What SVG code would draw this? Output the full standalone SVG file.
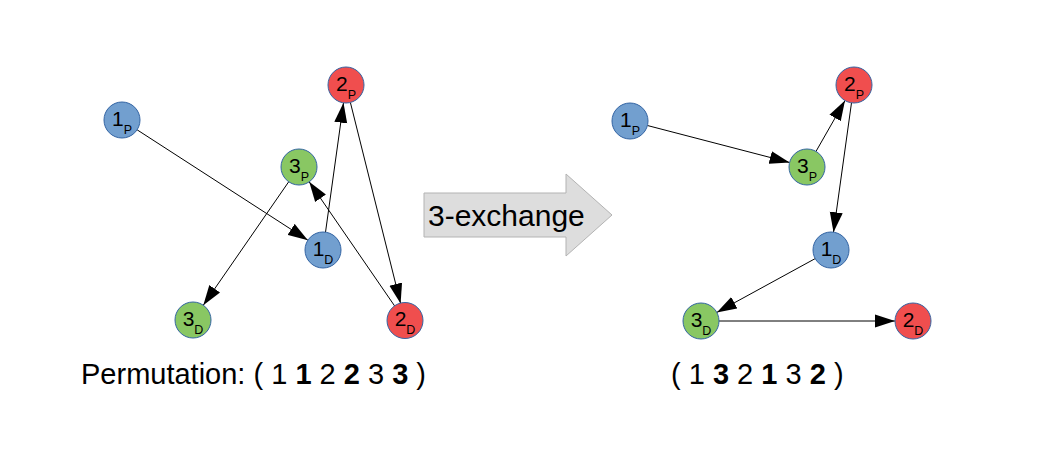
<svg xmlns="http://www.w3.org/2000/svg" width="1037" height="462" viewBox="0 0 1037 462">
<style>
.n{stroke:#3465a4;stroke-width:1}
.b{fill:#729fcf}.r{fill:#f04e4e}.g{fill:#89c763}
.t{font-family:"Liberation Sans",Arial,sans-serif;font-size:21px;fill:#000;text-anchor:middle}
.s{font-size:12.5px}
.e{stroke:#000;stroke-width:1;fill:none;marker-end:url(#ah)}
.lab{font-family:"Liberation Sans",Arial,sans-serif;font-size:29px;fill:#000}
</style>
<defs>
<marker id="ah" markerUnits="userSpaceOnUse" markerWidth="20" markerHeight="14" refX="20" refY="7" orient="auto">
<path d="M0,0.5 L20,7 L0,13.5 z" fill="#000"/>
</marker>
</defs>
<rect width="1037" height="462" fill="#fff"/>
<g id="connectors">
<line class="e" x1="137.1" y1="129.8" x2="307.9" y2="240.2"/>
<line class="e" x1="325.5" y1="232.2" x2="343.5" y2="102.8"/>
<line class="e" x1="350.4" y1="102.5" x2="400.6" y2="303.5"/>
<line class="e" x1="394.8" y1="306.2" x2="309.2" y2="181.8"/>
<line class="e" x1="288.7" y1="181.8" x2="203.3" y2="305.2"/>
<line class="e" x1="647.4" y1="125.5" x2="789.6" y2="162.5"/>
<line class="e" x1="816" y1="151.4" x2="845" y2="100.6"/>
<line class="e" x1="851.5" y1="102.8" x2="833.5" y2="232.2"/>
<line class="e" x1="815.2" y1="258.6" x2="716.8" y2="312.4"/>
<line class="e" x1="719" y1="321" x2="895" y2="321"/>
</g>
<g id="L1P"><circle class="n b" cx="122" cy="120" r="18"/><text class="t" x="122" y="126">1<tspan class="s" dy="7.5">P</tspan></text></g>
<g id="L2P"><circle class="n r" cx="346" cy="85" r="18"/><text class="t" x="346" y="91">2<tspan class="s" dy="7.5">P</tspan></text></g>
<g id="L3P"><circle class="n g" cx="299" cy="167" r="18"/><text class="t" x="299" y="173">3<tspan class="s" dy="7.5">P</tspan></text></g>
<g id="L1D"><circle class="n b" cx="323" cy="250" r="18"/><text class="t" x="323" y="256">1<tspan class="s" dy="7.5">D</tspan></text></g>
<g id="L3D"><circle class="n g" cx="193" cy="320" r="18"/><text class="t" x="193" y="326">3<tspan class="s" dy="7.5">D</tspan></text></g>
<g id="L2D"><circle class="n r" cx="405" cy="320.5" r="18"/><text class="t" x="405" y="326">2<tspan class="s" dy="7.5">D</tspan></text></g>
<g id="R1P"><circle class="n b" cx="630" cy="121" r="18"/><text class="t" x="630" y="127">1<tspan class="s" dy="7.5">P</tspan></text></g>
<g id="R2P"><circle class="n r" cx="854" cy="85" r="18"/><text class="t" x="854" y="91">2<tspan class="s" dy="7.5">P</tspan></text></g>
<g id="R3P"><circle class="n g" cx="807" cy="167" r="18"/><text class="t" x="807" y="173">3<tspan class="s" dy="7.5">P</tspan></text></g>
<g id="R1D"><circle class="n b" cx="831" cy="250" r="18"/><text class="t" x="831" y="256">1<tspan class="s" dy="7.5">D</tspan></text></g>
<g id="R3D"><circle class="n g" cx="701" cy="321" r="18"/><text class="t" x="701" y="327">3<tspan class="s" dy="7.5">D</tspan></text></g>
<g id="R2D"><circle class="n r" cx="913" cy="321" r="18"/><text class="t" x="913" y="327">2<tspan class="s" dy="7.5">D</tspan></text></g>
<g id="exchange">
<path d="M424,193 L566,193 L566,174 L612,215 L566,256 L566,237 L424,237 z" fill="#dddddd" stroke="#b3b3b3" stroke-width="1"/>
<text x="428" y="226" font-family="Liberation Sans,Arial,sans-serif" font-size="30" fill="#000">3-exchange</text>
</g>
<text class="lab" x="81" y="384">Permutation: ( 1 <tspan font-weight="bold">1</tspan> 2 <tspan font-weight="bold">2</tspan> 3 <tspan font-weight="bold">3</tspan> )</text>
<text class="lab" x="671" y="384">( 1 <tspan font-weight="bold">3</tspan> 2 <tspan font-weight="bold">1</tspan> 3 <tspan font-weight="bold">2</tspan> )</text>
</svg>
